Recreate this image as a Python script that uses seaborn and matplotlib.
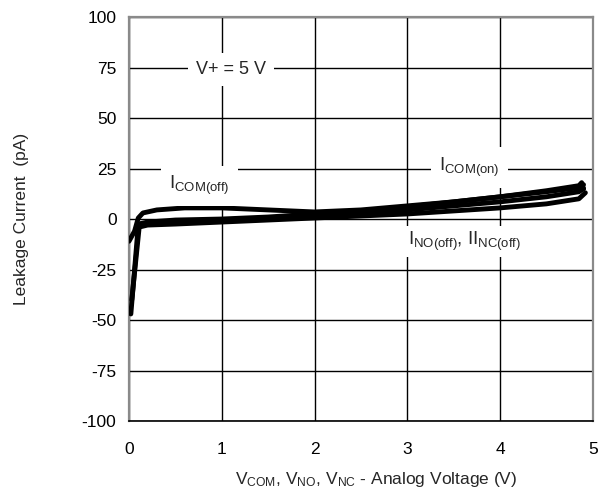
import numpy as np
import pandas as pd
import matplotlib
matplotlib.use("Agg")
import matplotlib.pyplot as plt
import seaborn as sns

# ---- data ----
x_com_off = [0.0, 0.06, 0.10, 0.15, 0.30, 0.60, 1.00, 1.50, 2.00, 2.50, 3.00, 3.50, 4.00, 4.50, 4.85, 4.88, 4.90]
y_com_off = [-11.0, -6.0, 0.5, 3.0, 4.5, 5.5, 5.5, 4.5, 3.5, 4.5, 6.5, 8.5, 11.0, 14.0, 16.5, 18.0, 15.0]

x_com_on = [0.10, 0.15, 0.20, 0.50, 1.00, 1.50, 2.00, 2.50, 3.00, 3.50, 4.00, 4.50, 4.85, 4.90]
y_com_on = [-2.5, -2.0, -1.5, -0.5, 0.0, 1.0, 2.5, 4.0, 6.0, 8.5, 11.0, 13.5, 15.5, 17.0]

x_no_off = [0.02, 0.10, 0.20, 0.50, 1.00, 1.50, 2.00, 2.50, 3.00, 3.50, 4.00, 4.50, 4.85, 4.90]
y_no_off = [-47.0, -3.0, -2.5, -2.0, -1.0, 0.0, 1.5, 3.0, 4.5, 6.5, 8.5, 11.0, 13.5, 15.0]

x_nc_off = [0.03, 0.11, 0.20, 0.50, 1.00, 1.50, 2.00, 2.50, 3.00, 3.50, 4.00, 4.50, 4.85, 4.92]
y_nc_off = [-40.0, -4.0, -3.0, -2.5, -1.5, -0.5, 0.5, 1.5, 2.5, 4.0, 5.5, 7.5, 10.0, 13.0]

x_ticks = [0, 1, 2, 3, 4, 5]
y_ticks = [-100, -75, -50, -25, 0, 25, 50, 75, 100]
y_tick_labels = ['-100', '-75', '-50', '-25', '0', '25', '50', '75', '100']

sns.set_style("white")
plt.rcParams['font.family'] = ['Liberation Sans', 'DejaVu Sans']
plt.rcParams['mathtext.default'] = 'regular'

fig = plt.figure(figsize=(6.0, 4.93), dpi=100)
ax = fig.add_axes([0.215, 0.146, 0.773, 0.8195])

for xs, ys in [(x_com_off, y_com_off), (x_com_on, y_com_on),
               (x_no_off, y_no_off), (x_nc_off, y_nc_off)]:
    df = pd.DataFrame({'V': xs, 'I': ys})
    sns.lineplot(data=df, x='V', y='I', sort=False, estimator=None,
                 color='black', linewidth=3.5, ax=ax, zorder=3)

ax.set_xlim(0, 5)
ax.set_ylim(-100, 100)
ax.set_xticks(x_ticks)
ax.set_yticks(y_ticks)
ax.set_yticklabels(y_tick_labels)
ax.grid(True, color='black', linewidth=1.0)
ax.set_axisbelow(True)
ax.tick_params(axis='both', length=0, labelsize=12.5, colors='black')
ax.tick_params(axis='x', pad=15)
ax.tick_params(axis='y', pad=9)
for side in ['left', 'right', 'top']:
    ax.spines[side].set_color('#8a8a8a')
    ax.spines[side].set_linewidth(1.6)
ax.spines['bottom'].set_color('black')
ax.spines['bottom'].set_linewidth(1.2)

ax.set_xlabel('V$_{COM}$, V$_{NO}$, V$_{NC}$ - Analog Voltage (V)', fontsize=12.5)
ax.xaxis.set_label_coords(0.532, -0.122)
ax.set_ylabel('Leakage Current  (pA)', fontsize=12.5)
ax.yaxis.set_label_coords(-0.215, 0.5)

box = dict(facecolor='white', edgecolor='none', boxstyle='square,pad=0.45')
ax.text(1.1, 74, 'V+ = 5 V', fontsize=13, ha='center', va='center', bbox=box, zorder=4)
ax.text(3.67, 25.5, 'I$_{COM(on)}$', fontsize=13.5, ha='center', va='center', bbox=box, zorder=4)
ax.text(0.76, 16.5, 'I$_{COM(off)}$', fontsize=13.5, ha='center', va='center', bbox=box, zorder=4)
ax.text(3.62, -11, 'I$_{NO(off)}$, II$_{NC(off)}$', fontsize=13.5, ha='center', va='center',
        bbox=dict(facecolor='white', edgecolor='none', boxstyle='square,pad=0.2'), zorder=4)

plt.savefig('out.png', dpi=100)
